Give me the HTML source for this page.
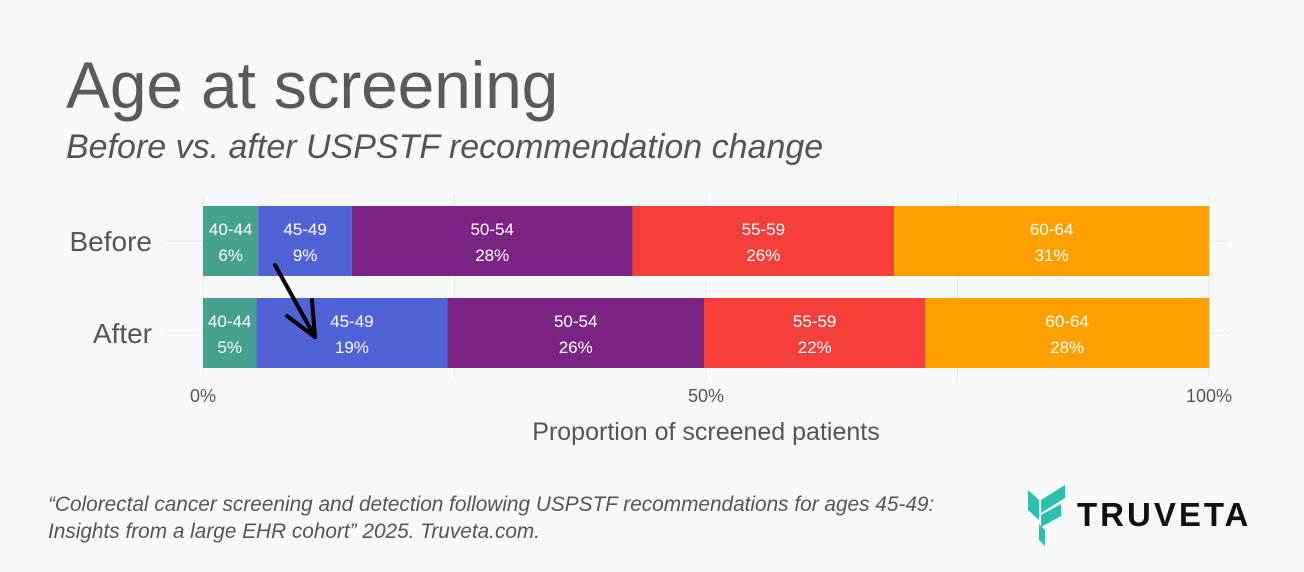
<!DOCTYPE html>
<html><head><meta charset="utf-8"><style>
body{margin:0;width:1304px;height:572px;background:#f7f8fa;font-family:"Liberation Sans","DejaVu Sans",sans-serif;overflow:hidden;position:relative}
.t{position:absolute;color:#555}
</style></head><body>
<div class="t" style="left:66px;top:47px;font-size:66px;color:#5a5a5a;letter-spacing:-0.2px">Age at screening</div>
<div class="t" style="left:66px;top:128px;font-size:34px;font-style:italic;color:#555">Before vs. after USPSTF recommendation change</div>
<svg id="c" width="1304" height="572" style="position:absolute;left:0;top:0"></svg>
<div class="t" style="left:48px;top:491px;font-size:20.8px;font-style:italic;line-height:27px;color:#555">“Colorectal cancer screening and detection following USPSTF recommendations for ages 45-49:<br>Insights from a large EHR cohort” 2025. Truveta.com.</div>
<svg style="position:absolute;left:1025px;top:482px" width="240" height="66">
<polygon points="3,8 14,18 14,38 3,28" fill="#2bbfae"/>
<polygon points="16,18 40,3 40,16 16,31" fill="#2bbfae"/>
<polygon points="16,33 36,22 36,34 16,45" fill="#2bbfae"/>
<polygon points="14,42 20,48 20,64 14,58" fill="#2bbfae"/>
<text x="52" y="44" font-size="33" font-weight="bold" fill="#111" letter-spacing="3" font-family="Liberation Sans, sans-serif">TRUVETA</text>
</svg>
<script>
const categories=["Before","After"];
const groups=["40-44","45-49","50-54","55-59","60-64"];
const beforeValues=[5.5,9.3,27.9,26.0,31.3];
const afterValues=[5.3,19.0,25.5,22.0,28.2];
const beforeLabels=["6%","9%","28%","26%","31%"];
const afterLabels=["5%","19%","26%","22%","28%"];
const xTicks=[0,25,50,75,100];
const xTickLabels=["0%","","50%","","100%"];
const colors=["#46a08e","#4f63d6","#7b2483","#f53f3b","#ffa000"];
const NS="http://www.w3.org/2000/svg",svg=document.getElementById('c');
const x=v=>203+v*(1209-203)/100;
const yc=i=>[241,333][i];
function mk(t,a){const e=document.createElementNS(NS,t);for(const k in a)e.setAttribute(k,a[k]);svg.appendChild(e);return e;}
xTicks.forEach((t,i)=>{const g=mk('line',{x1:x(t),x2:x(t),y1:195,y2:380,stroke:'#e6e7ea','stroke-width':1});


if(xTickLabels[i]){const tx=mk('text',{x:x(t),y:402,'text-anchor':'middle','font-size':18,fill:'#555'});tx.textContent=xTickLabels[i];

}});
[beforeValues,afterValues].forEach((vals,ci)=>{
 const labs=ci?afterLabels:beforeLabels;
 mk('line',{x1:165,x2:203,y1:yc(ci),y2:yc(ci),stroke:'#e6e7ea'});
 mk('line',{x1:1209,x2:1230,y1:yc(ci),y2:yc(ci),stroke:'#e6e7ea'});
 const cl=mk('text',{x:152,y:yc(ci)+10,'text-anchor':'end','font-size':28,fill:'#555'});cl.textContent=categories[ci];
 
 
 let acc=0;
 vals.forEach((v,j)=>{
  const r=mk('rect',{x:x(acc),y:yc(ci)-35,width:x(acc+v)-x(acc),height:70,fill:colors[j]});
  
  
  const cx=(x(acc)+x(acc+v))/2;
  const a=mk('text',{x:cx,y:yc(ci)-6,'text-anchor':'middle','font-size':17,fill:'#fff'});a.textContent=groups[j];
  
  
  const b=mk('text',{x:cx,y:yc(ci)+20,'text-anchor':'middle','font-size':17,fill:'#fff'});b.textContent=labs[j];
  
  
  acc+=v;});
});
const xt=mk('text',{x:706,y:440,'text-anchor':'middle','font-size':25,fill:'#555'});xt.textContent="Proportion of screened patients";


const ar=mk('path',{d:'M275,265 L315,337 M287,316 L315,337 L312,300',stroke:'#000','stroke-width':4,fill:'none','stroke-linecap':'round','stroke-linejoin':'round'});


</script>
</body></html>
